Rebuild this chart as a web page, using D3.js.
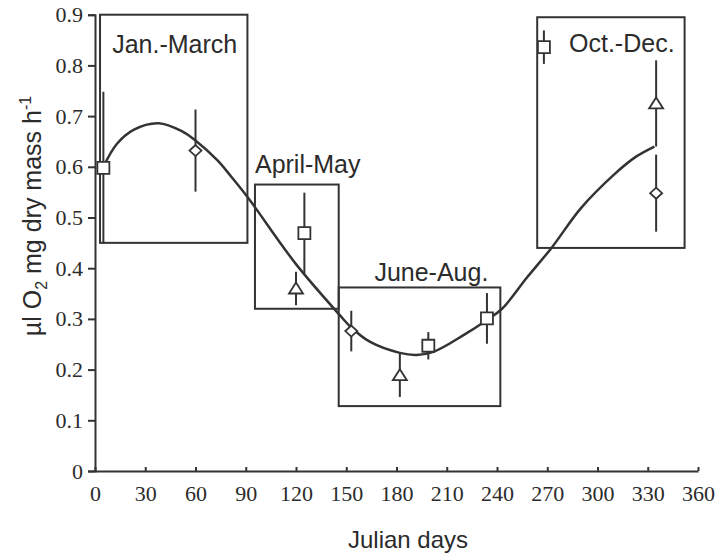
<!DOCTYPE html>
<html>
<head>
<meta charset="utf-8">
<title>Oxygen uptake over the year</title>
<style>
    body { margin: 0; background: #fff; }
    svg { display: block; }
    .lab { font-family: "Liberation Sans", Arial, sans-serif; fill: #2b2b2b; }
    .tick text { font-family: "Liberation Serif", "Times New Roman", serif; font-size: 22px; fill: #2b2b2b; }
    .domain, .tick line { stroke: #333; stroke-width: 2; }
</style>
</head>
<body>
<svg width="722" height="555"></svg>
<script src="https://d3js.org/d3.v7.min.js"></script>
<script>
// axis ticks
var xTicks = [0, 30, 60, 90, 120, 150, 180, 210, 240, 270, 300, 330, 360];
var yTicks = [0, 0.1, 0.2, 0.3, 0.4, 0.5, 0.6, 0.7, 0.8, 0.9];

// seasonal boxes (julian day range, value range)
var periods = ["Jan.-March", "April-May", "June-Aug.", "Oct.-Dec."];
var periodStart = [3, 95.5, 145.5, 264];
var periodEnd = [91, 145.5, 242, 352];
var periodLow = [0.45, 0.32, 0.128, 0.44];
var periodHigh = [0.9, 0.565, 0.362, 0.895];

// three series, mean +- error
var squareDays = [5, 125, 199, 234, 268];
var squareMean = [0.598, 0.469, 0.247, 0.301, 0.836];
var squareErr = [0.15, 0.08, 0.027, 0.05, 0.033];

var diamondDays = [60, 153, 335];
var diamondMean = [0.632, 0.276, 0.548];
var diamondErr = [0.081, 0.04, 0.076];

var triangleDays = [120, 182, 335];
var triangleMean = [0.36, 0.189, 0.725];
var triangleErr = [0.033, 0.043, 0.085];

// fitted curve
var fitDays = [5, 13, 23, 38, 52, 60, 73, 81, 90, 96, 120, 146, 153, 164, 182, 192, 202, 220, 234, 243, 258, 273, 290, 310, 323, 334];
var fitValues = [0.600, 0.645, 0.673, 0.686, 0.670, 0.652, 0.613, 0.582, 0.545, 0.518, 0.408, 0.308, 0.283, 0.255, 0.233, 0.229, 0.235, 0.268, 0.298, 0.320, 0.382, 0.442, 0.518, 0.585, 0.620, 0.640];

var svg = d3.select("svg");
var ink = "#333";

var x = d3.scaleLinear().domain([0, 360]).range([95, 698]);
var y = d3.scaleLinear().domain([0, 0.9]).range([471, 14.7]);

// axes
svg.append("g")
    .attr("transform", "translate(0,471)")
    .call(d3.axisBottom(x).tickValues(xTicks).tickSizeInner(-4).tickSizeOuter(0).tickPadding(14));
svg.append("g")
    .attr("transform", "translate(95,0)")
    .call(d3.axisLeft(y).tickValues(yTicks).tickSize(7).tickPadding(5)
        .tickFormat(function(d){ return d === 0 ? "0" : d3.format(".1f")(d); }));

// boxes + their labels
var labelPlace = [
    { anchor: "middle", dx: 1, dy: 38, ref: "mid" },
    { anchor: "start", dx: 0, dy: -12, ref: "left" },
    { anchor: "end", dx: -12, dy: -6, ref: "right" },
    { anchor: "end", dx: -10, dy: 35, ref: "right" }
];
periods.forEach(function(name, i){
    var x0 = x(periodStart[i]), x1 = x(periodEnd[i]);
    var y0 = y(periodHigh[i]), y1 = y(periodLow[i]);
    svg.append("rect")
        .attr("x", x0).attr("y", y0)
        .attr("width", x1 - x0).attr("height", y1 - y0)
        .attr("fill", "none").attr("stroke", ink).attr("stroke-width", 2);
    var p = labelPlace[i];
    var lx = p.ref == "mid" ? (x0 + x1) / 2 : (p.ref == "left" ? x0 : x1);
    svg.append("text").attr("class", "lab")
        .attr("x", lx + p.dx).attr("y", y0 + p.dy)
        .attr("text-anchor", p.anchor)
        .style("font-size", "25px")
        .text(name);
});

// marker shapes
function squarePath(){ return "M-6,-6H6V6H-6Z"; }
function diamondPath(){ return "M0,-5.5L6,0L0,5.5L-6,0Z"; }
function trianglePath(){ return "M0,-6L7,5H-7Z"; }

var series = [
    { days: squareDays, mean: squareMean, err: squareErr, shape: squarePath },
    { days: diamondDays, mean: diamondMean, err: diamondErr, shape: diamondPath },
    { days: triangleDays, mean: triangleMean, err: triangleErr, shape: trianglePath }
];

// error bars
series.forEach(function(s){
    svg.append("g").selectAll("line")
        .data(s.days)
        .enter()
        .append("line")
        .attr("x1", function(d){ return x(d); })
        .attr("x2", function(d){ return x(d); })
        .attr("y1", function(d, i){ return y(s.mean[i] + s.err[i]); })
        .attr("y2", function(d, i){ return y(s.mean[i] - s.err[i]); })
        .attr("stroke", ink).attr("stroke-width", 2);
});

// fitted curve
var line = d3.line()
    .x(function(d, i){ return x(fitDays[i]); })
    .y(function(d){ return y(d); })
    .curve(d3.curveCatmullRom.alpha(0.5));
svg.append("path")
    .attr("d", line(fitValues))
    .attr("fill", "none").attr("stroke", ink).attr("stroke-width", 2.5);

// markers
series.forEach(function(s){
    svg.append("g").selectAll("path")
        .data(s.days)
        .enter()
        .append("path")
        .attr("d", s.shape)
        .attr("transform", function(d, i){ return "translate(" + x(d) + "," + y(s.mean[i]) + ")"; })
        .attr("fill", "#fff").attr("stroke", ink).attr("stroke-width", 1.8);
});

// axis titles
svg.append("text").attr("class", "lab")
    .attr("x", 408).attr("y", 548)
    .attr("text-anchor", "middle")
    .style("font-size", "24px")
    .text("Julian days");

var yl = svg.append("text").attr("class", "lab")
    .attr("transform", "translate(41,216) rotate(-90)")
    .attr("text-anchor", "middle")
    .style("font-size", "25px");
yl.append("tspan").text("µl O");
yl.append("tspan").attr("dy", 6).style("font-size", "16px").text("2");
yl.append("tspan").attr("dy", -6).text(" mg dry mass h");
yl.append("tspan").attr("dy", -10).style("font-size", "16px").text("-1");
</script>
</body>
</html>
